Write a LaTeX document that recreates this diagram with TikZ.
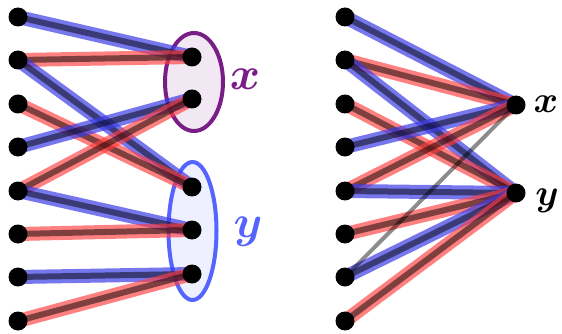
\documentclass[tikz,border=0pt]{standalone}
\usepackage{amsmath}
\usepackage{graphicx}
\pgfdeclarelayer{back}
\pgfdeclarelayer{mid}
\pgfsetlayers{back,mid,main}
\definecolor{setpurple}{RGB}{122,30,135}
\definecolor{setblue}{RGB}{85,100,255}
\definecolor{bandblue}{RGB}{60,60,230}
\definecolor{bandred}{RGB}{255,60,60}
\newcommand{\biglabel}[1]{\scalebox{1.85}{\Huge\boldmath$#1$}}
\newcommand{\smalllabel}[1]{\scalebox{1.5}{\Huge\boldmath$#1$}}
\tikzset{
  vtx/.style={circle, fill=black, inner sep=0pt, minimum size=19pt},
  bedge/.style={line width=6pt, draw=black, draw opacity=0.5,
    preaction={draw=bandblue, draw opacity=0.7, line width=14pt}},
  redge/.style={line width=6pt, draw=black, draw opacity=0.5,
    preaction={draw=bandred, draw opacity=0.65, line width=14pt}},
  gedge/.style={line width=4pt, draw=black, draw opacity=0.45}
}

\begin{document}
\begin{tikzpicture}[x=1pt, y=-1pt]
\useasboundingbox (0,0) rectangle (562,334);

% left picture: the two sets
\begin{pgfonlayer}{back}
\draw[setpurple, line width=4pt, fill=setpurple!10] (194,82) ellipse (29 and 49);
\draw[setblue, line width=4pt, fill=setblue!10] (192.5,231) ellipse (24 and 69);
\end{pgfonlayer}

\node[vtx] (a1) at (18,17) {};
\node[vtx] (a2) at (18,60) {};
\node[vtx] (a3) at (18,104) {};
\node[vtx] (a4) at (18,147) {};
\node[vtx] (a5) at (18,191) {};
\node[vtx] (a6) at (18,234) {};
\node[vtx] (a7) at (18,277) {};
\node[vtx] (a8) at (18,321) {};

\node[vtx] (p1) at (192,57) {};
\node[vtx] (p2) at (192,99) {};
\node[vtx] (q1) at (192,187) {};
\node[vtx] (q2) at (192,230) {};
\node[vtx] (q3) at (192,274) {};

\node[text=setpurple] (plab) at (245,79) {\biglabel{x}};
\node[text=setblue] (qlab) at (248,232) {\biglabel{y}};

\begin{pgfonlayer}{mid}
\draw[bedge] (a1.center) -- (p1.center);
\draw[redge] (a2.center) -- (p1.center);
\draw[bedge] (a2.center) -- (q1.center);
\draw[redge] (a3.center) -- (q1.center);
\draw[bedge] (a4.center) -- (p2.center);
\draw[redge] (a5.center) -- (p2.center);
\draw[bedge] (a5.center) -- (q2.center);
\draw[redge] (a6.center) -- (q2.center);
\draw[bedge] (a7.center) -- (q3.center);
\draw[redge] (a8.center) -- (q3.center);
\end{pgfonlayer}

% right picture: sets collapsed to points
\node[vtx] (b1) at (345,17) {};
\node[vtx] (b2) at (345,60) {};
\node[vtx] (b3) at (345,104) {};
\node[vtx] (b4) at (345,147) {};
\node[vtx] (b5) at (345,191) {};
\node[vtx] (b6) at (345,234) {};
\node[vtx] (b7) at (345,277) {};
\node[vtx] (b8) at (345,321) {};

\node[vtx] (xx) at (516,105) {};
\node[vtx] (yy) at (516,193) {};

\node (xlab) at (546,104) {\smalllabel{x}};
\node (ylab) at (547,201) {\smalllabel{y}};

\begin{pgfonlayer}{mid}
\draw[bedge] (b1.center) -- (xx.center);
\draw[redge] (b2.center) -- (xx.center);
\draw[bedge] (b2.center) -- (yy.center);
\draw[redge] (b3.center) -- (yy.center);
\draw[bedge] (b4.center) -- (xx.center);
\draw[redge] (b5.center) -- (xx.center);
\draw[bedge] (b5.center) -- (yy.center);
\draw[redge] (b6.center) -- (yy.center);
\draw[bedge] (b7.center) -- (yy.center);
\draw[redge] (b8.center) -- (yy.center);
\draw[gedge] (b7.center) -- (xx.center);
\end{pgfonlayer}
\end{tikzpicture}
\end{document}
